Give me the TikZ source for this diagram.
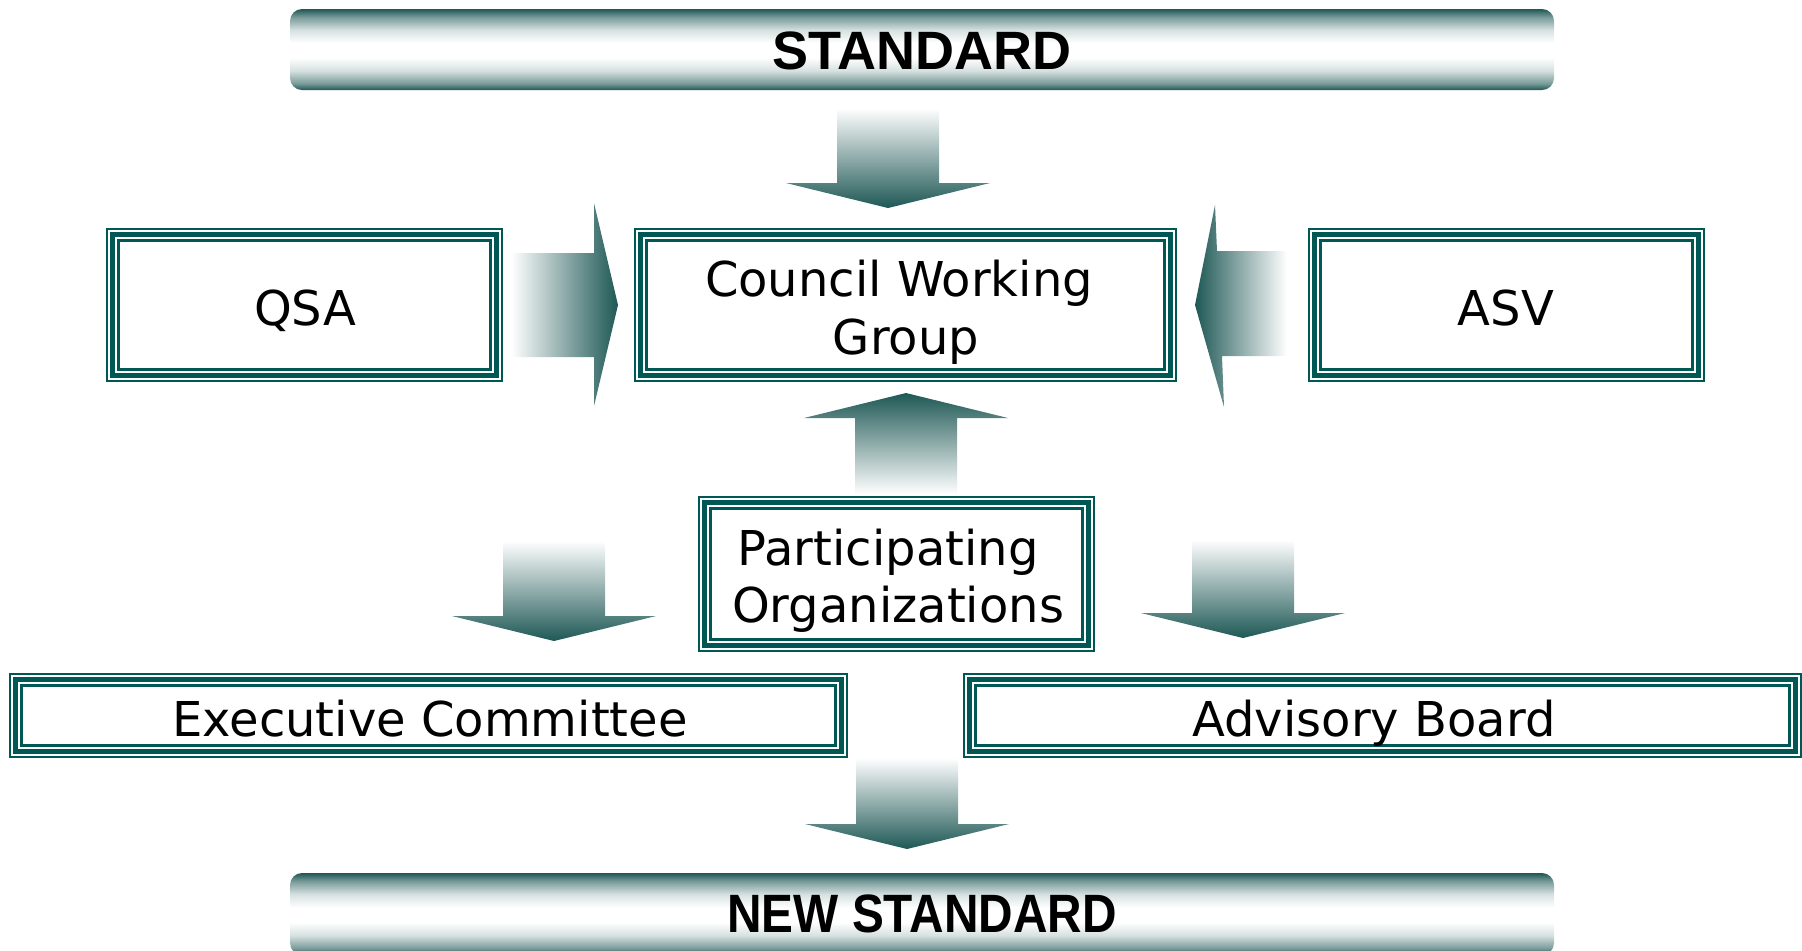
\documentclass[tikz,border=0pt]{standalone}
\usepackage{fontspec}
\usepackage{graphicx}
\usetikzlibrary{fit}
\newfontfamily\bodyfont{DejaVu Sans}
\newfontfamily\barfont{Liberation Sans}
\definecolor{boxteal}{RGB}{0,88,84}
\definecolor{arrteal}{RGB}{30,88,85}
\colorlet{barmid}{arrteal!60!white}
\colorlet{barlight}{arrteal!18!white}
\pgfdeclareverticalshading{barshade}{100bp}{color(0bp)=(arrteal); color(25bp)=(arrteal); color(29bp)=(barmid); color(37bp)=(barlight); color(45bp)=(white); color(54bp)=(white); color(62bp)=(barlight); color(70bp)=(barmid); color(75bp)=(arrteal); color(100bp)=(arrteal)}
\newcommand\triframe[1]{%
  \draw[frthin] ([shift={(1,1)}]#1.north west) rectangle ([shift={(-1,-1)}]#1.south east);
  \draw[frthick] ([shift={(6.5,6.5)}]#1.north west) rectangle ([shift={(-6.5,-6.5)}]#1.south east);
  \draw[frinner] ([shift={(12.5,12.5)}]#1.north west) rectangle ([shift={(-12.5,-12.5)}]#1.south east);}
\begin{document}
\begin{tikzpicture}[x=0.5pt,y=-0.5pt,
  boxnode/.style={inner sep=0pt, outer sep=0pt, draw=none},
  frthin/.style={draw=boxteal, line width=1pt},
  frthick/.style={draw=boxteal, line width=2.5pt},
  frinner/.style={draw=boxteal, line width=1.5pt},
  lbl/.style={font=\bodyfont\fontsize{24pt}{28.75pt}\selectfont, text=black, inner sep=0pt, anchor=base},
  barnode/.style={inner sep=0pt, outer sep=0pt, rounded corners=6pt, shading=barshade},
  barlbl/.style={font=\barfont\bfseries\fontsize{27pt}{32pt}\selectfont, text=black, inner sep=0pt, anchor=base},
  downarr/.pic={\shade[top color=white, bottom color=arrteal] (-51,-#1-25) -- (51,-#1-25) -- (51,-25) -- (102,-25) -- (0,0) -- (-102,-25) -- (-51,-25) -- cycle;},
  uparr/.pic={\shade[top color=arrteal, bottom color=white] (-51,#1+25) -- (51,#1+25) -- (51,25) -- (102,25) -- (0,0) -- (-102,25) -- (-51,25) -- cycle;},
  rarr/.pic={\shade[left color=white, right color=arrteal] (-24-#1,-52) -- (-24,-52) -- (-24,-102) -- (0,0) -- (-24,101) -- (-24,52) -- (-24-#1,52) -- cycle;},
  larr/.pic={\shade[left color=arrteal, right color=white] (0,0) -- (20,-100) -- (22,-54) -- (#1,-54) -- (#1,51) -- (27,51) -- (29,102) -- cycle;}
]
\useasboundingbox (0,0) rectangle (1802,950);

% bars
\node[barnode, fit={(290,9) (1554,90)}] (std) {};
\node[barlbl] (stdl) at (922,69) {STANDARD};
\node[barnode, fit={(290,873) (1554,955)}] (newstd) {};
\node[barlbl] (newstdl) at (922,932) {\scalebox{0.885}[1]{NEW STANDARD}};

% boxes
\node[boxnode, fit={(106,228) (503,382)}] (qsa) {};
\node[boxnode, fit={(634,228) (1177,382)}] (cwg) {};
\node[boxnode, fit={(1308,228) (1705,382)}] (asv) {};
\node[boxnode, fit={(698,496) (1095,652)}] (po) {};
\node[boxnode, fit={(9,673) (848,758)}] (exec) {};
\node[boxnode, fit={(963,673) (1802,758)}] (adv) {};
\triframe{qsa}\triframe{cwg}\triframe{asv}\triframe{po}\triframe{exec}\triframe{adv}

% labels
\node[lbl] (qsal) at (305,325) {QSA};
\node[lbl] (asvl) at (1506,325) {ASV};
\node[lbl] (cwgl1) at (899,296) {Council Working};
\node[lbl] (cwgl2) at (906,354) {Group};
\node[lbl] (pol1) at (888,565) {Participating};
\node[lbl] (pol2) at (898,622) {Organizations};
\node[lbl] (execl) at (430,736) {Executive Committee};
\node[lbl] (advl) at (1374,736) {Advisory Board};

% block arrows
\coordinate (a1) at (888,208);
\coordinate (a2) at (618,305);
\coordinate (a3) at (1195,305);
\coordinate (a4) at (906,393);
\coordinate (a5) at (554,641);
\coordinate (a6) at (1243,638);
\coordinate (a7) at (907,849);
\pic at (a1) {downarr=75};
\pic at (a2) {rarr=83};
\pic at (a3) {larr=92};
\pic at (a4) {uparr=76};
\pic at (a5) {downarr=75};
\pic at (a6) {downarr=73};
\pic at (a7) {downarr=66};
\end{tikzpicture}
\end{document}
